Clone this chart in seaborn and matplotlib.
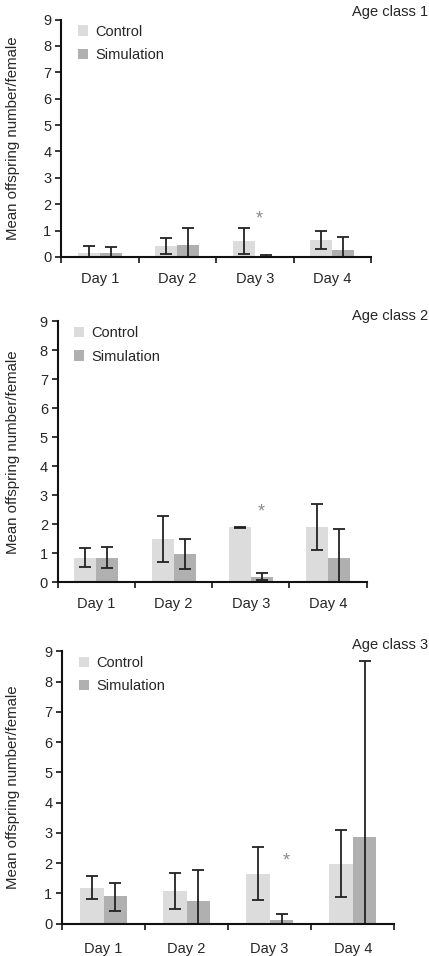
import numpy as np
import pandas as pd
import seaborn as sns
import matplotlib.pyplot as plt
from matplotlib import transforms

# Datos
days = ["Day 1", "Day 2", "Day 3", "Day 4"]
groups = ["Control", "Simulation"]
panel_titles = ["Age class 1", "Age class 2", "Age class 3"]

# Age class 1
ac1_control = [0.16, 0.42, 0.61, 0.66]
ac1_control_lo = [0.0, 0.13, 0.13, 0.32]
ac1_control_hi = [0.40, 0.72, 1.10, 1.00]
ac1_sim = [0.14, 0.44, 0.03, 0.28]
ac1_sim_lo = [0.0, 0.0, 0.0, 0.0]
ac1_sim_hi = [0.37, 1.11, 0.09, 0.75]

# Age class 2
ac2_control = [0.85, 1.49, 1.89, 1.90]
ac2_control_lo = [0.52, 0.69, 1.87, 1.11]
ac2_control_hi = [1.20, 2.29, 1.90, 2.70]
ac2_sim = [0.85, 0.97, 0.18, 0.83]
ac2_sim_lo = [0.51, 0.45, 0.08, 0.0]
ac2_sim_hi = [1.21, 1.49, 0.31, 1.85]

# Age class 3
ac3_control = [1.18, 1.07, 1.64, 1.97]
ac3_control_lo = [0.80, 0.48, 0.78, 0.87]
ac3_control_hi = [1.56, 1.67, 2.52, 3.11]
ac3_sim = [0.91, 0.74, 0.12, 2.85]
ac3_sim_lo = [0.43, 0.0, 0.0, 0.0]
ac3_sim_hi = [1.35, 1.76, 0.32, 8.68]

# asterisco (dia 3) por panel
star_day = "Day 3"
star_y = [1.58, 2.55, 2.21]

panels = [
    (ac1_control, ac1_control_lo, ac1_control_hi, ac1_sim, ac1_sim_lo, ac1_sim_hi),
    (ac2_control, ac2_control_lo, ac2_control_hi, ac2_sim, ac2_sim_lo, ac2_sim_hi),
    (ac3_control, ac3_control_lo, ac3_control_hi, ac3_sim, ac3_sim_lo, ac3_sim_hi),
]

sns.set_style("ticks")
plt.rcParams['font.family'] = ['Liberation Sans', 'DejaVu Sans']

fig = plt.figure(figsize=(4.29, 9.56), dpi=100)

# posiciones de los ejes (left, bottom, width, height)
axes_pos = [
    [0.1422, 0.7312, 0.7226, 0.2484],
    [0.1345, 0.3909, 0.7203, 0.2730],
    [0.1445, 0.0338, 0.7746, 0.2849],
]
title_y = [1 - 12 / 956, 1 - 316 / 956, 1 - 645 / 956]
star_dx = [0.06, 0.14, 0.195]
label_x = [-0.155, -0.145, -0.148]
xpad = [10.5, 10.5, 13]

colors = {"Control": "#dcdcdd", "Simulation": "#b0b0b0"}
fs = 10.5

for k, (c, c_lo, c_hi, s, s_lo, s_hi) in enumerate(panels):
    ax = fig.add_axes(axes_pos[k])

    df = pd.DataFrame({
        "day": days * 2,
        "group": ["Control"] * 4 + ["Simulation"] * 4,
        "value": c + s,
    })
    sns.barplot(data=df, x="day", y="value", hue="group", hue_order=groups,
                palette=colors, width=0.57, linewidth=0, errorbar=None,
                saturation=1, ax=ax)

    # barras de error (asimetricas)
    lows = [c_lo, s_lo]
    highs = [c_hi, s_hi]
    vals = [c, s]
    bar_conts = list(ax.containers)
    for j, cont in enumerate(bar_conts):
        xs = [b.get_x() + b.get_width() / 2 for b in cont]
        v = np.array(vals[j])
        yerr = [v - np.array(lows[j]), np.array(highs[j]) - v]
        ax.errorbar(xs, v, yerr=yerr, fmt="none", ecolor="#222222",
                    elinewidth=1.3, capsize=4, capthick=1.3, zorder=2)

    # asterisco (el glifo queda alto, se baja unos pixeles)
    xi = days.index(star_day)
    tr = transforms.offset_copy(ax.transData, fig=fig, x=0, y=-4, units="dots")
    ax.text(xi + star_dx[k], star_y[k], "*", color="#8a8a8a", fontsize=13,
            ha="center", va="center", transform=tr)

    ax.set_xlim(-0.5, 3.5)
    ax.set_ylim(0, 9)
    ax.set_yticks(range(0, 10))
    ax.set_xticks(np.arange(-0.5, 4.0, 1.0))
    ax.set_xticklabels([])
    ax.set_xticks(range(4), minor=True)
    ax.set_xticklabels(days, minor=True)
    ax.tick_params(axis="x", which="minor", length=0, pad=xpad[k], labelsize=fs)
    ax.tick_params(axis="x", which="major", length=4, width=1.3, direction="out")
    ax.tick_params(axis="y", length=4.5, width=1.3, pad=2.5, labelsize=fs)
    ax.set_xlabel("")
    ax.set_ylabel("Mean offspring number/female", fontsize=10.8, va="center")
    ax.yaxis.set_label_coords(label_x[k], 0.5)
    for sp in ["left", "bottom"]:
        ax.spines[sp].set_linewidth(1.5)
        ax.spines[sp].set_color("#111111")
    sns.despine(ax=ax)

    leg = ax.get_legend()
    h = leg.legend_handles
    l = [t.get_text() for t in leg.texts]
    ax.legend(h, l, loc="upper left", frameon=False, fontsize=fs,
              handlelength=0.7, handleheight=0.7, handletextpad=0.5,
              labelspacing=0.65, borderaxespad=0.2, bbox_to_anchor=(0.025, 1.015))

    fig.text(0.997, title_y[k], panel_titles[k], ha="right", va="center", fontsize=fs)

plt.savefig("out.png", dpi=100)
